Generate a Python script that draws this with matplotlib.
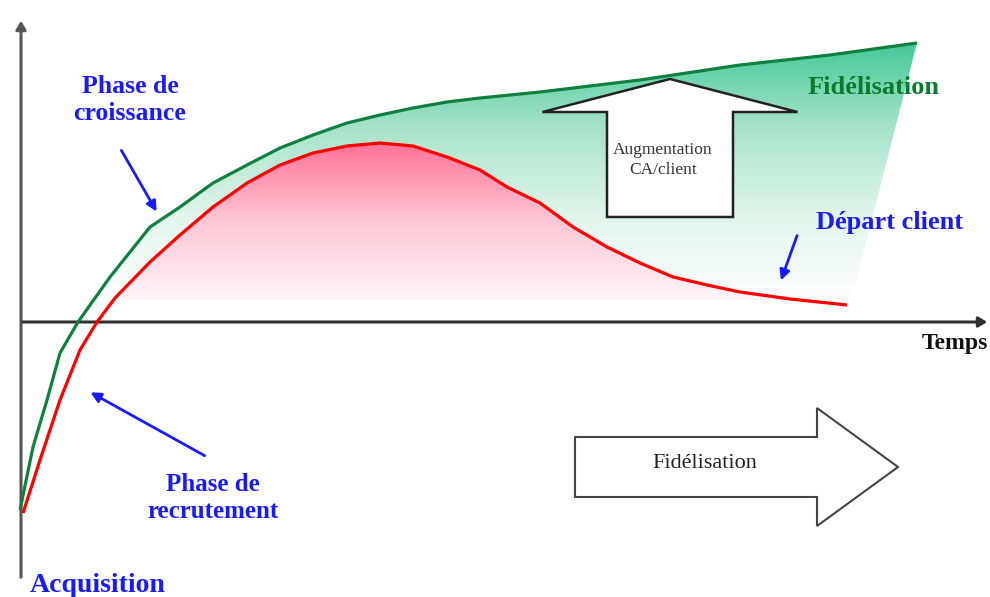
import numpy as np
import matplotlib
matplotlib.use("Agg")
import matplotlib.pyplot as plt
from matplotlib.patches import Polygon, FancyArrow
from matplotlib.colors import LinearSegmentedColormap

# courbe "fidelisation" (verte) : temps / valeur
green_t = [0, 1.3, 2.7, 4.0, 5.8, 9.0, 13.0, 16.0, 19.3, 22.7, 26.0, 29.3, 32.7, 36.0, 39.3,
           42.7, 46.0, 52.0, 62.0, 72.0, 81.0, 89.7]
green_v = [-18.8, -12.5, -7.8, -3.1, 0, 4.5, 9.5, 11.5, 13.9, 15.7, 17.4, 18.7, 19.9, 20.7, 21.4,
           22.0, 22.4, 23.0, 24.2, 25.7, 26.7, 27.9]

# courbe "depart client" (rouge)
red_t = [0.3, 2.0, 4.0, 6.0, 7.7, 9.5, 13.0, 16.0, 19.3, 22.7, 26.0, 29.3, 32.7, 36.0, 39.3,
         42.7, 46.0, 48.7, 52.0, 55.3, 58.7, 62.0, 65.3, 68.7, 72.0, 77.0, 82.7]
red_v = [-19.1, -13.8, -7.8, -2.8, 0, 2.4, 6.0, 8.7, 11.5, 13.9, 15.7, 16.9, 17.6, 17.9, 17.6,
         16.5, 15.2, 13.5, 11.9, 9.5, 7.5, 5.9, 4.5, 3.7, 3.0, 2.3, 1.7]

fill_base = 2.2      # bas des zones degradees
green_edge = (83.0, 1.7)  # bord droit de la zone verte

plt.rcParams['font.family'] = ['Liberation Serif', 'DejaVu Serif']

fig = plt.figure(figsize=(9.9, 5.97), dpi=100)
ax = fig.add_axes([0, 0, 1, 1])
ax.set_xlim(-2, 97)
ax.set_ylim(-27.5, 32.2)
ax.axis('off')

grad = np.linspace(0, 1, 256).reshape(-1, 1)

# zone verte (degrade) entre les deux courbes
poly_g = list(zip(green_t, green_v)) + [green_edge] + list(zip(red_t[::-1], red_v[::-1]))
pg = Polygon(poly_g, closed=True, facecolor='none', edgecolor='none')
ax.add_patch(pg)
cm_g = LinearSegmentedColormap.from_list('g', ['#ffffff', '#e2f6ec', '#a6e3c8', '#3ec795'])
im = ax.imshow(grad, extent=[0, 92, fill_base - 0.5, 28.5], origin='lower', aspect='auto',
               cmap=cm_g, zorder=1)
im.set_clip_path(pg)

# zone rose sous la courbe rouge
poly_r = [(9.3, fill_base)] + [(t, v) for t, v in zip(red_t, red_v) if t > 9.3] + [(82.7, fill_base)]
pr = Polygon(poly_r, closed=True, facecolor='none', edgecolor='none')
ax.add_patch(pr)
cm_r = LinearSegmentedColormap.from_list('r', ['#fff6f9', '#ffc4d3', '#ff6a90'])
im2 = ax.imshow(grad, extent=[0, 92, fill_base, 18.6], origin='lower', aspect='auto',
                cmap=cm_r, zorder=2)
im2.set_clip_path(pr)

ax.plot(green_t, green_v, color='#0f8040', lw=2.3, zorder=4, solid_capstyle='butt')
ax.plot(red_t, red_v, color='#ff0000', lw=2.3, zorder=4, solid_capstyle='butt')

# axes
ax.annotate('', xy=(0.1, 30.4), xytext=(0.1, -25.8),
            arrowprops=dict(arrowstyle='-|>,head_length=0.5,head_width=0.3', color='#555555', lw=2.2),
            zorder=3)
ax.annotate('', xy=(97, 0), xytext=(0, 0),
            arrowprops=dict(arrowstyle='-|>,head_length=0.5,head_width=0.3', color='#303030', lw=2.2),
            zorder=3)
ax.text(93.5, -2.1, 'Temps', fontsize=17, fontweight='bold', ha='center', va='center', color='#111111')

# fleche "Augmentation CA/client"
up = FancyArrow(65.0, 10.5, 0, 13.8, width=12.6, head_width=25.5, head_length=3.3,
                length_includes_head=True, facecolor='white', edgecolor='#222222', lw=1.8, zorder=5)
ax.add_patch(up)
ax.text(64.3, 16.2, 'Augmentation\nCA/client', fontsize=12.5, ha='center', va='center',
        color='#333333', linespacing=1.4, zorder=6)

# fleche "Fidelisation"
right = FancyArrow(55.5, -14.5, 32.3, 0, width=6.0, head_width=11.8, head_length=8.1,
                   length_includes_head=True, facecolor='white', edgecolor='#444444', lw=1.5, zorder=5)
ax.add_patch(right)
ax.text(68.5, -14.1, 'Fidélisation', fontsize=16, ha='center', va='center', color='#222222', zorder=6)

blue = '#1a1aff'
ax.text(11.0, 22.2, 'Phase de\ncroissance', fontsize=18.5, fontweight='bold', color=blue,
        ha='center', va='center', linespacing=1.25)
ax.annotate('', xy=(13.8, 10.8), xytext=(10.0, 17.4),
            arrowprops=dict(arrowstyle='-|>,head_length=0.6,head_width=0.3', color=blue, lw=2))

ax.text(19.3, -17.6, 'Phase de\nrecrutement', fontsize=18, fontweight='bold', color=blue,
        ha='center', va='center', linespacing=1.25)
ax.annotate('', xy=(6.8, -6.9), xytext=(18.7, -13.5),
            arrowprops=dict(arrowstyle='-|>,head_length=0.6,head_width=0.3', color=blue, lw=2))

ax.text(1.0, -26.3, 'Acquisition', fontsize=20, fontweight='bold', color=blue,
        ha='left', va='center')

ax.text(85.4, 23.5, 'Fidélisation', fontsize=19, fontweight='bold', color='#0a7a30',
        ha='center', va='center', zorder=6)

ax.text(86.9, 10.0, 'Départ client', fontsize=19, fontweight='bold', color=blue,
        ha='center', va='center', zorder=6)
ax.annotate('', xy=(76.0, 3.9), xytext=(77.8, 8.9),
            arrowprops=dict(arrowstyle='-|>,head_length=0.6,head_width=0.3', color=blue, lw=2), zorder=6)

fig.savefig('out.png', dpi=100)
